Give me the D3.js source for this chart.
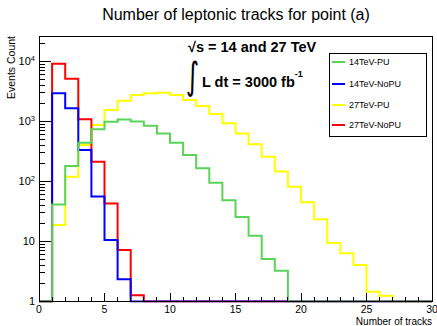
<!DOCTYPE html>
<html>
<head>
<meta charset="utf-8">
<script src="https://cdn.jsdelivr.net/npm/d3@7"></script>
<style>
  body { margin: 0; background: #fff; }
  text { font-family: "Liberation Sans", Arial, Helvetica, sans-serif; }
</style>
</head>
<body>
<svg id="chart" width="437" height="326"></svg>
<script>
// ---- data (bin i covers [i, i+1]) ----
const binEdges = d3.range(0, 31);           // 0..30
const green14PU = [0, 41.5, 181, 443, 741, 990, 1080, 1000, 850, 633, 443, 277, 166, 95.5, 48.6, 25.6, 12.5, 5.1, 3.26, 0, 0, 0, 0, 0, 0, 0, 0, 0, 0, 0];
const blue14NoPU = [0, 2950, 1660, 335, 56, 10.6, 2.34, 0, 0, 0, 0, 0, 0, 0, 0, 0, 0, 0, 0, 0, 0, 0, 0, 0, 0, 0, 0, 0, 0, 0];
const yellow27PU = [0, 18.8, 120, 406, 875, 1550, 2220, 2760, 2950, 3020, 2760, 2280, 1810, 1334, 933, 633, 417, 259, 147, 82, 45, 23.4, 9.4, 6.4, 4.06, 1.46, 1.25, 0, 0, 0];
const red27NoPU = [0, 9190, 5170, 1088, 214, 43, 7.2, 1.27, 0, 0, 0, 0, 0, 0, 0, 0, 0, 0, 0, 0, 0, 0, 0, 0, 0, 0, 0, 0, 0, 0];

const legendLabels = ["14TeV-PU", "14TeV-NoPU", "27TeV-PU", "27TeV-NoPU"];
const xTickValues = [0, 5, 10, 15, 20, 25, 30];
const yMajorTicks = [1, 10, 100, 1000, 10000];
const yTickLabels = [["1", ""], ["10", ""], ["10", "2"], ["10", "3"], ["10", "4"]];
const titleText = "Number of leptonic tracks for point (a)";
const xTitle = "Number of tracks";
const yTitle = "Events Count";

// ---- layout ----
const svg = d3.select("#chart");
const L = 39, R = 432, T = 36, B = 301.5;
const yMax = Math.pow(10, 4.425);

const x = d3.scaleLinear().domain([0, 30]).range([L, R]);
const y = d3.scaleLog().domain([1, yMax]).range([B, T]).clamp(true);

const series = [
  { name: legendLabels[0], values: green14PU, color: "#5ad35a" },
  { name: legendLabels[1], values: blue14NoPU, color: "#0000ff" },
  { name: legendLabels[2], values: yellow27PU, color: "#ffff00" },
  { name: legendLabels[3], values: red27NoPU, color: "#ff0000" }
];

// title
svg.append("text").attr("x", 236).attr("y", 20).attr("text-anchor", "middle")
  .attr("font-size", 16).attr("fill", "#000").text(titleText);

// histograms (draw order: yellow, red, blue, green)
const line = d3.line()
  .x(d => x(d[0]))
  .y(d => y(d[1] > 0 ? d[1] : 1))
  .curve(d3.curveStepAfter);

const order = [2, 3, 1, 0];
const clipId = "plotclip";
svg.append("clipPath").attr("id", clipId).append("rect")
  .attr("x", L).attr("y", T).attr("width", R - L).attr("height", B - T + 1);

order.forEach(i => {
  const s = series[i];
  const pts = s.values.map((v, k) => [binEdges[k], v]);
  pts.push([binEdges[30], s.values[29]]);
  svg.append("path")
    .attr("d", line(pts))
    .attr("fill", "none")
    .attr("stroke", s.color)
    .attr("stroke-width", 2)
    .attr("clip-path", `url(#${clipId})`);
});

// frame
svg.append("rect").attr("x", L).attr("y", T).attr("width", R - L).attr("height", B - T)
  .attr("fill", "none").attr("stroke", "#000").attr("stroke-width", 1)
  .attr("shape-rendering", "crispEdges");

// x ticks (inward)
const xg = svg.append("g").attr("shape-rendering", "crispEdges");
d3.range(0, 31).forEach(v => {
  const major = v % 5 === 0;
  xg.append("line").attr("x1", x(v)).attr("x2", x(v))
    .attr("y1", B).attr("y2", B - (major ? 9 : 5))
    .attr("stroke", "#000").attr("stroke-width", 1);
});
xTickValues.forEach(v => {
  svg.append("text").attr("x", x(v)).attr("y", 312.5).attr("text-anchor", "middle")
    .attr("font-size", 10.5).text(String(v));
});

// y ticks (inward)
const yg = svg.append("g").attr("shape-rendering", "crispEdges");
for (let e = 0; e <= 4; e++) {
  for (let m = 1; m <= 9; m++) {
    const v = m * Math.pow(10, e);
    if (v > yMax) break;
    yg.append("line").attr("x1", L).attr("x2", L + (m === 1 ? 12 : 6))
      .attr("y1", y(v)).attr("y2", y(v))
      .attr("stroke", "#000").attr("stroke-width", 1);
  }
}
yMajorTicks.forEach((v, i) => {
  const t = svg.append("text").attr("x", 35).attr("y", y(v)).attr("dy", "0.36em")
    .attr("text-anchor", "end").attr("font-size", 11);
  t.append("tspan").text(yTickLabels[i][0]);
  if (yTickLabels[i][1]) {
    t.append("tspan").attr("font-size", 7.5).attr("dy", "-0.6em").text(yTickLabels[i][1]);
  }
});

// axis titles
svg.append("text").attr("x", 432).attr("y", 324.5).attr("text-anchor", "end")
  .attr("font-size", 10).text(xTitle);
svg.append("text").attr("transform", "translate(15,36) rotate(-90)")
  .attr("text-anchor", "end").attr("font-size", 10.5).text(yTitle);

// annotation
svg.append("text").attr("x", 188).attr("y", 52).attr("font-size", 14.5)
  .attr("font-weight", "bold").text("√s = 14 and 27 TeV");
svg.append("text").attr("transform", "translate(186,89) scale(0.85,1.25)")
  .attr("font-size", 30).style("font-family", "'DejaVu Sans', sans-serif")
  .attr("font-weight", "normal").text("∫");
const lum = svg.append("text").attr("x", 202).attr("y", 87).attr("font-size", 14.5)
  .attr("font-weight", "bold");
lum.append("tspan").text("L dt = 3000 fb");
lum.append("tspan").attr("font-size", 9).attr("dy", -10).text("-1");

// legend
const lg = svg.append("g");
lg.append("rect").attr("x", 329.5).attr("y", 53.5).attr("width", 97).attr("height", 83)
  .attr("fill", "#fff").attr("stroke", "#000").attr("stroke-width", 1);
const ly = [62, 84, 105, 125];
series.forEach((s, i) => {
  lg.append("line").attr("x1", 332).attr("x2", 345).attr("y1", ly[i]).attr("y2", ly[i])
    .attr("stroke", s.color).attr("stroke-width", 2);
  lg.append("text").attr("x", 349).attr("y", ly[i]).attr("dy", "0.35em")
    .attr("font-size", 9).text(s.name);
});
</script>
</body>
</html>
